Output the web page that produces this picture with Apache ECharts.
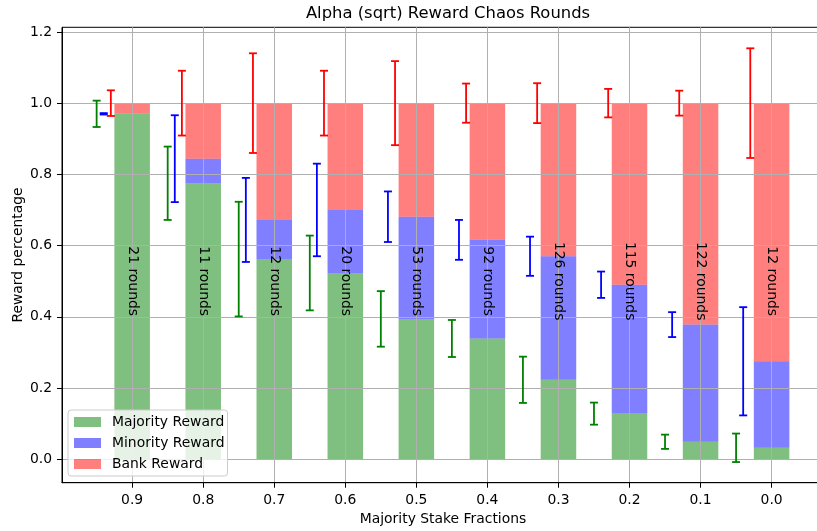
<!DOCTYPE html>
<html>
<head>
<meta charset="utf-8">
<script src="https://cdn.jsdelivr.net/npm/echarts@6/dist/echarts.min.js"></script>
<style>html,body{margin:0;padding:0;background:#fff;}#c{width:817px;height:531px;}</style>
</head>
<body>
<div id="c"></div>
<script>
// ---- data ----
const categories = ['0.9', '0.8', '0.7', '0.6', '0.5', '0.4', '0.3', '0.2', '0.1', '0.0'];
const majority = [0.970, 0.775, 0.562, 0.523, 0.394, 0.339, 0.223, 0.128, 0.049, 0.032];
const minority = [0.000, 0.069, 0.110, 0.177, 0.287, 0.277, 0.347, 0.362, 0.329, 0.243];
const bank     = [0.030, 0.156, 0.328, 0.300, 0.319, 0.384, 0.430, 0.510, 0.622, 0.725];
const majorityErr = [0.037, 0.103, 0.161, 0.105, 0.078, 0.052, 0.065, 0.031, 0.020, 0.040];
const minorityErr = [0.002, 0.122, 0.118, 0.130, 0.071, 0.056, 0.055, 0.037, 0.035, 0.152];
const bankErr     = [0.036, 0.091, 0.140, 0.091, 0.118, 0.055, 0.056, 0.040, 0.035, 0.154];
const rounds = [21, 11, 12, 20, 53, 92, 126, 115, 122, 12];
const yTicks = [0, 0.2, 0.4, 0.6, 0.8, 1.0, 1.2];

// ---- layout ----
const FONT = 'DejaVu Sans';
const xMin = -0.9875, xMax = 9.7375;
const yMin = -0.066, yMax = 1.213;
const BAR_W = 0.5; // bar width in axis units

const idx = categories.map((_, i) => i);
const cumMin = majority.map((v, i) => v + minority[i]);
const cumAll = cumMin.map((v, i) => v + bank[i]);

function stackData(base, vals) {
  return vals.map((v, i) => [i, base ? base[i] : 0, (base ? base[i] : 0) + v]);
}
function barRender(params, api) {
  const x = api.value(0), lo = api.value(1), hi = api.value(2);
  const a = api.coord([x - BAR_W / 2, hi]);
  const b = api.coord([x + BAR_W / 2, lo]);
  return {
    type: 'rect',
    shape: { x: a[0], y: a[1], width: b[0] - a[0], height: b[1] - a[1] },
    style: { fill: api.visual('color') }
  };
}
function errData(centers, errs, off) {
  return centers.map((c, i) => [i + off, c - errs[i], c + errs[i]]);
}
function errRender(params, api) {
  const x = api.value(0), lo = api.value(1), hi = api.value(2);
  const a = api.coord([x, lo]), b = api.coord([x, hi]);
  const cap = 4;
  const style = { stroke: api.visual('color'), lineWidth: 1.8 };
  return {
    type: 'group',
    children: [
      { type: 'line', shape: { x1: a[0], y1: a[1], x2: b[0], y2: b[1] }, style },
      { type: 'line', shape: { x1: a[0] - cap, y1: a[1], x2: a[0] + cap, y2: a[1] }, style },
      { type: 'line', shape: { x1: b[0] - cap, y1: b[1], x2: b[0] + cap, y2: b[1] }, style }
    ]
  };
}

const chart = echarts.init(document.getElementById('c'), null, { renderer: 'canvas' });
chart.setOption({
  animation: false,
  backgroundColor: '#fff',
  textStyle: { fontFamily: FONT },
  title: {
    text: 'Alpha (sqrt) Reward Chaos Rounds',
    left: 443, top: 1, textAlign: 'center',
    textStyle: { fontFamily: FONT, fontSize: 16.4, fontWeight: 'normal', color: '#000' }
  },
  grid: {
    left: 62, width: 762, top: 27.3, height: 455.4,
    containLabel: false, outerBoundsMode: 'none',
    show: true, borderColor: '#000', borderWidth: 1, backgroundColor: 'transparent', z: 3
  },
  legend: {
    orient: 'vertical', left: 68, top: 410, z: 10,
    data: ['Majority Reward', 'Minority Reward', 'Bank Reward'],
    icon: 'rect', itemWidth: 27, itemHeight: 10, itemGap: 7,
    padding: [5, 3, 5, 6],
    backgroundColor: 'rgba(255,255,255,0.8)', borderColor: '#cccccc', borderWidth: 1, borderRadius: 3,
    textStyle: { fontFamily: FONT, fontSize: 13.9, color: '#000', padding: [0, 0, 0, 6] }
  },
  xAxis: {
    type: 'value', min: xMin, max: xMax, z: 3,
    name: 'Majority Stake Fractions', nameLocation: 'middle', nameGap: 30,
    nameTextStyle: { fontFamily: FONT, fontSize: 13.9, color: '#000' },
    axisLine: { show: true, onZero: false, lineStyle: { color: '#000', width: 1 } },
    axisTick: { show: true, length: 5, customValues: idx, lineStyle: { color: '#000', width: 1 } },
    axisLabel: {
      customValues: idx, margin: 10.5,
      fontFamily: FONT, fontSize: 13.9, color: '#000',
      formatter: v => categories[Math.round(v)]
    },
    splitLine: { show: true, lineStyle: { color: '#b0b0b0', width: 1 } }
  },
  yAxis: {
    type: 'value', min: yMin, max: yMax, z: 3,
    name: 'Reward percentage', nameLocation: 'middle', nameGap: 37, nameMoveOverlap: false,
    nameTextStyle: { fontFamily: FONT, fontSize: 13.9, color: '#000' },
    axisLine: { show: true, onZero: false, lineStyle: { color: '#000', width: 1 } },
    axisTick: { show: true, length: 5, customValues: yTicks, lineStyle: { color: '#000', width: 1 } },
    axisLabel: {
      customValues: yTicks, margin: 10,
      fontFamily: FONT, fontSize: 13.9, color: '#000',
      formatter: v => v.toFixed(1)
    },
    splitLine: { show: true, lineStyle: { color: '#b0b0b0', width: 1 } }
  },
  series: [
    { name: 'Majority Reward', type: 'custom', z: 2, renderItem: barRender,
      itemStyle: { color: 'rgba(0,128,0,0.5)' }, encode: { x: 0, y: [1, 2] },
      data: stackData(null, majority) },
    { name: 'Minority Reward', type: 'custom', z: 2, renderItem: barRender,
      itemStyle: { color: 'rgba(0,0,255,0.5)' }, encode: { x: 0, y: [1, 2] },
      data: stackData(majority, minority) },
    { name: 'Bank Reward', type: 'custom', z: 2, renderItem: barRender,
      itemStyle: { color: 'rgba(255,0,0,0.5)' }, encode: { x: 0, y: [1, 2] },
      data: stackData(cumMin, bank) },
    { type: 'custom', z: 5, itemStyle: { color: '#008000' }, renderItem: errRender,
      encode: { x: 0, y: [1, 2] }, data: errData(majority, majorityErr, -0.5) },
    { type: 'custom', z: 5, itemStyle: { color: '#0000ff' }, renderItem: errRender,
      encode: { x: 0, y: [1, 2] }, data: errData(cumMin, minorityErr, -0.4) },
    { type: 'custom', z: 5, itemStyle: { color: '#ff0000' }, renderItem: errRender,
      encode: { x: 0, y: [1, 2] }, data: errData(cumAll, bankErr, -0.3) },
    { type: 'custom', z: 6,
      encode: { x: 0, y: 1 },
      data: rounds.map((r, i) => [i, 0.5, r]),
      renderItem: function (params, api) {
        const p = api.coord([api.value(0), api.value(1)]);
        return {
          type: 'text', x: p[0], y: p[1], rotation: -Math.PI / 2,
          style: { text: api.value(2) + ' rounds', fill: '#000',
                   font: '13.9px "DejaVu Sans"', align: 'center', verticalAlign: 'middle' }
        };
      }
    }
  ]
});
</script>
</body>
</html>
